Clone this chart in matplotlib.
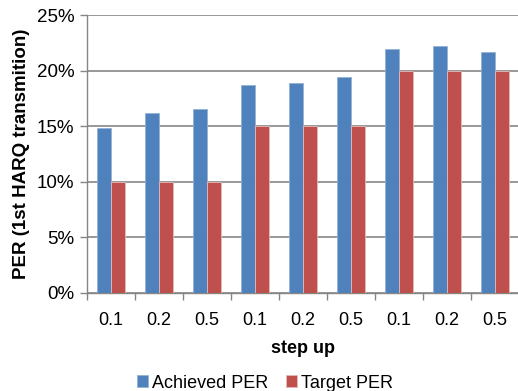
import matplotlib.pyplot as plt
import numpy as np

plt.rcParams['font.family'] = ['Liberation Sans', 'DejaVu Sans']

categories = ['0.1', '0.2', '0.5', '0.1', '0.2', '0.5', '0.1', '0.2', '0.5']
achieved = [14.8, 16.2, 16.5, 18.7, 18.9, 19.45, 21.95, 22.2, 21.7]
target = [10, 10, 10, 15, 15, 15, 20, 20, 20]

blue = '#4F81BD'
red = '#C0504D'
grid = '#868686'

fig = plt.figure(figsize=(5.18, 3.91), dpi=100)
ax = fig.add_axes([87 / 518, 1 - 292.5 / 391, 432 / 518, 277.5 / 391])

x = np.arange(len(categories))
w = 14 / 48
ax.bar(x - w / 2, achieved, w, color=blue, edgecolor='#95B3D7', linewidth=0.6, label='Achieved PER', zorder=3)
ax.bar(x + w / 2, target, w, color=red, edgecolor='#E6B9B8', linewidth=0.6, label='Target PER', zorder=3)

ax.set_xlim(-0.5, len(categories) - 0.5)
ax.set_ylim(0, 25)
ax.set_yticks(np.arange(0, 26, 5))
ax.set_yticklabels([f'{v}%' for v in range(0, 26, 5)], fontsize=13.5)
ax.set_xticks(x)
ax.set_xticklabels(categories, fontsize=13)
ax.set_xticks(np.arange(-0.5, len(categories), 1), minor=True)
ax.tick_params(axis='x', which='major', length=0, pad=14)
ax.tick_params(axis='x', which='minor', length=5, color=grid, width=1)
ax.tick_params(axis='y', length=5, color=grid, width=1, pad=4)

ax.grid(axis='y', color=grid, linewidth=1.2, zorder=0)
for s in ['top', 'right']:
    ax.spines[s].set_visible(False)
for s in ['left', 'bottom']:
    ax.spines[s].set_color(grid)
    ax.spines[s].set_linewidth(1)

ax.set_xlabel('step up', fontsize=13, fontweight='bold', labelpad=8)
ax.set_ylabel('PER (1st HARQ transmition)', fontsize=13.5, fontweight='bold', labelpad=5)

fig.legend(loc='center', bbox_to_anchor=(265 / 518, 1 - 383 / 391), ncol=2, frameon=False,
           fontsize=13, handlelength=0.6, handleheight=0.6, handletextpad=0.2, columnspacing=1.0)

fig.savefig('out.png', dpi=100)
